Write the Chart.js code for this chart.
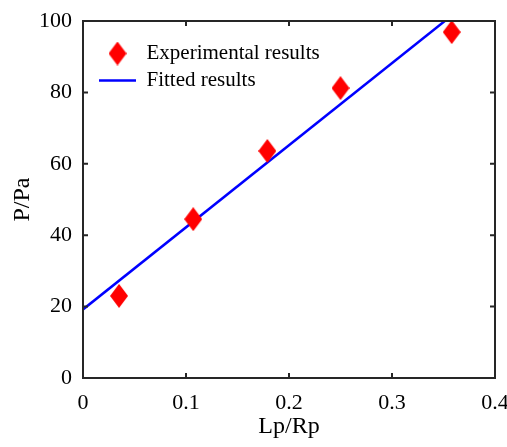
<!DOCTYPE html>
<html>
<head>
<meta charset="utf-8">
<script src="https://cdn.jsdelivr.net/npm/chart.js@4"></script>
<style>
  html, body { margin: 0; padding: 0; background: #fff; }
  #wrap { width: 507px; height: 447px; }
</style>
</head>
<body>
<div id="wrap"><canvas id="myChart"></canvas></div>
<script>
// data
var lpRp = [0.035, 0.107, 0.179, 0.250, 0.358];
var pressure = [23.0, 44.5, 63.6, 81.2, 96.9];
var fitX = [0, 0.4];
var fitY = [19.2, 111.2];
var xTicks = [0, 0.1, 0.2, 0.3, 0.4];
var yTicks = [0, 20, 40, 60, 80, 100];

var serif = "'Liberation Serif', 'Times New Roman', serif";
var axisColor = '#262626';

// elongated diamond like the matlab 'd' marker
function makeDiamond(w, h, color) {
    var c = document.createElement('canvas');
    c.width = w;
    c.height = h;
    var g = c.getContext('2d');
    g.fillStyle = color;
    g.beginPath();
    g.moveTo(w / 2, 0);
    g.lineTo(w, h / 2);
    g.lineTo(w / 2, h);
    g.lineTo(0, h / 2);
    g.closePath();
    g.fill();
    return c;
}
var diamond = makeDiamond(18, 24, '#ff0000');

// box round the plot with inward ticks, and legend placement
var boxPlugin = {
    id: 'box',
    afterLayout: function(chart) {
        var a = chart.chartArea;
        if (chart.legend) {
            chart.legend.left = a.left + 10;
            chart.legend.top = a.top + 16;
        }
    },
    afterDatasetsDraw: function(chart) {
        var ctx = chart.ctx;
        var a = chart.chartArea;
        var xs = chart.scales.x, ys = chart.scales.y;
        var len = 5;
        ctx.save();
        ctx.strokeStyle = axisColor;
        ctx.lineWidth = 2;
        ctx.beginPath();
        xs.ticks.forEach(function(t, i) {
            var px = xs.getPixelForTick(i);
            ctx.moveTo(px, a.bottom); ctx.lineTo(px, a.bottom - len);
            ctx.moveTo(px, a.top); ctx.lineTo(px, a.top + len);
        });
        ys.ticks.forEach(function(t, i) {
            var py = ys.getPixelForTick(i);
            ctx.moveTo(a.left, py); ctx.lineTo(a.left + len, py);
            ctx.moveTo(a.right, py); ctx.lineTo(a.right - len, py);
        });
        ctx.stroke();
        ctx.strokeRect(a.left, a.top, a.right - a.left, a.bottom - a.top);
        ctx.restore();
    }
};

var ctx = document.getElementById('myChart');
var chart = new Chart(ctx, {
    type: 'scatter',
    data: {
        datasets: [
            {
                label: 'Experimental results',
                data: lpRp.map(function(x, i) { return { x: x, y: pressure[i] }; }),
                pointStyle: diamond,
                backgroundColor: '#ff0000',
                borderColor: '#ff0000',
                showLine: false,
                order: 1
            },
            {
                label: 'Fitted results',
                type: 'line',
                data: fitX.map(function(x, i) { return { x: x, y: fitY[i] }; }),
                borderColor: '#0000ff',
                backgroundColor: '#0000ff',
                borderWidth: 2.5,
                pointRadius: 0,
                pointStyle: 'line',
                fill: false,
                order: 2
            }
        ]
    },
    options: {
        responsive: true,
        maintainAspectRatio: false,
        animation: false,
        layout: { padding: { left: 0, top: 21, right: 12, bottom: 0 } },
        plugins: {
            tooltip: { enabled: false },
            legend: {
                position: 'chartArea',
                align: 'start',
                labels: {
                    usePointStyle: true,
                    pointStyleWidth: 37,
                    padding: 6,
                    color: '#000',
                    font: { family: serif, size: 21 }
                }
            }
        },
        scales: {
            x: {
                type: 'linear',
                min: 0,
                max: 0.4,
                afterBuildTicks: function(s) { s.ticks = xTicks.map(function(v) { return { value: v }; }); },
                afterFit: function(s) { s.height = 69; s.paddingLeft = 0; s.paddingRight = 0; },
                grid: { display: false, drawTicks: false },
                border: { display: false },
                ticks: {
                    autoSkip: false,
                    maxRotation: 0,
                    padding: 12,
                    color: '#000',
                    font: { family: serif, size: 22 }
                },
                title: {
                    display: true,
                    text: 'Lp/Rp',
                    color: '#000',
                    padding: { top: 6, bottom: 6 },
                    font: { family: serif, size: 24 }
                }
            },
            y: {
                type: 'linear',
                min: 0,
                max: 100,
                afterBuildTicks: function(s) { s.ticks = yTicks.map(function(v) { return { value: v }; }); },
                afterFit: function(s) { s.width = 83; s.paddingTop = 0; s.paddingBottom = 0; },
                grid: { display: false, drawTicks: false },
                border: { display: false },
                ticks: {
                    padding: 11,
                    color: '#000',
                    font: { family: serif, size: 22 }
                },
                title: {
                    display: true,
                    text: 'P/Pa',
                    color: '#000',
                    padding: { top: 8, bottom: 8 },
                    font: { family: serif, size: 24 }
                }
            }
        }
    },
    plugins: [boxPlugin]
});
</script>
</body>
</html>
